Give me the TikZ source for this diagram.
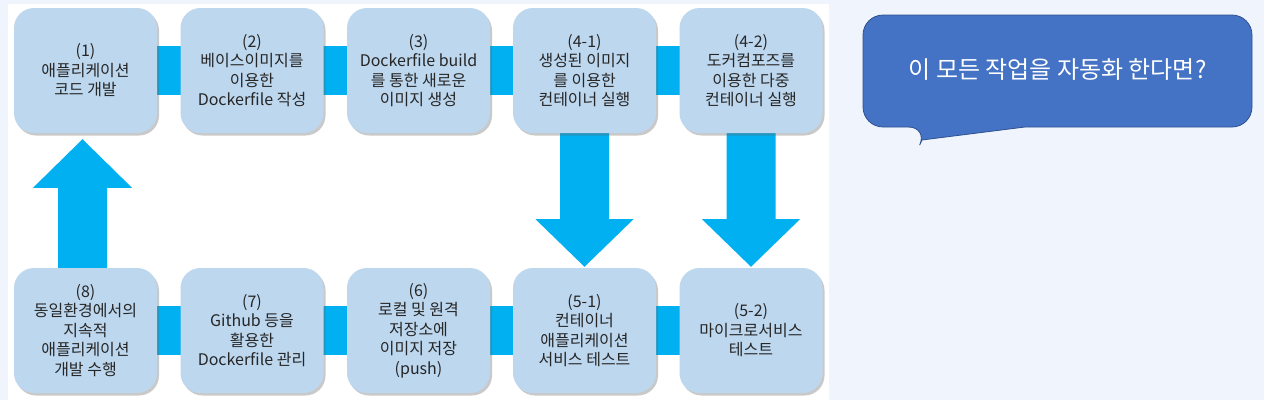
\documentclass[tikz,border=0pt]{standalone}
\usepackage{fontspec}
\setmainfont{Noto Sans CJK KR}
\newfontfamily\krfont{Noto Sans CJK KR}
\usetikzlibrary{calc,shadows,backgrounds}
\definecolor{pagebg}{RGB}{240,245,253}
\definecolor{boxfill}{RGB}{189,215,238}
\definecolor{bandcol}{RGB}{0,176,240}
\definecolor{bubblefill}{RGB}{68,114,196}
\definecolor{bubbleline}{RGB}{47,82,143}
\definecolor{txt}{RGB}{38,38,38}
\tikzset{
  stepbox/.style={rounded corners=20pt, fill=boxfill, minimum width=143pt, minimum height=125pt,
    inner sep=0pt, align=center, text=txt, font=\krfont\fontsize{16}{19.5}\selectfont,
    drop shadow={shadow xshift=2pt, shadow yshift=-2.5pt, opacity=0.35, fill=black!60}},
  band/.style={fill=bandcol},
}
\begin{document}
\begin{tikzpicture}[x=1pt,y=-1pt]
\useasboundingbox (0,0) rectangle (1264,400);
% top row
\node[stepbox] (b1) at (85.5,70.5) {(1)\\애플리케이션\\코드 개발};
\node[stepbox] (b2) at (252,70.5) {(2)\\베이스이미지를\\이용한\\Dockerfile 작성};
\node[stepbox] (b3) at (418.5,70.5) {(3)\\Dockerfile build\\를 통한 새로운\\이미지 생성};
\node[stepbox] (b41) at (584.5,70.5) {(4-1)\\생성된 이미지\\를 이용한\\ 컨테이너 실행};
\node[stepbox] (b42) at (751,70.5) {(4-2)\\도커컴포즈를\\이용한 다중\\ 컨테이너 실행};
% bottom row
\node[stepbox] (b8) at (85.5,330.5) {(8)\\동일환경에서의\\지속적\\애플리케이션\\개발 수행};
\node[stepbox] (b7) at (252,330.5) {(7)\\Github 등을\\활용한\\Dockerfile 관리};
\node[stepbox] (b6) at (418.5,330.5) {(6)\\로컬 및 원격\\저장소에\\이미지 저장\\(push)};
\node[stepbox] (b51) at (584.5,330.5) {(5-1)\\컨테이너\\애플리케이션\\서비스 테스트};
\node[stepbox] (b52) at (751,330.5) {(5-2)\\마이크로서비스\\테스트};
\begin{scope}[on background layer]
\fill[pagebg] (0,0) rectangle (1264,400);
\fill[white] (8,4) rectangle (829,400);
% horizontal bands
\foreach \a/\b in {b1/b2,b2/b3,b3/b41,b41/b42,b8/b7,b7/b6,b6/b51,b51/b52}{
  \fill[band] ($(\a.east)+(-2,-24.5)$) rectangle ($(\b.west)+(2,24.5)$);
}
% down arrows
\foreach \a/\b in {b41/b51,b42/b52}{
  \fill[band] ($(\a.south)+(-24.5,-2)$) -- ($(\a.south)+(24.5,-2)$) -- ($(\a.south)+(24.5,86)$)
    -- ($(\a.south)+(49,86)$) -- ($(\b.north)+(0,-1)$) -- ($(\a.south)+(-49,86)$)
    -- ($(\a.south)+(-24.5,86)$) -- cycle;
}
% up arrow
\fill[band] ($(b8.north)+(-27.5,2)$) -- ($(b8.north)+(21.5,2)$) -- ($(b8.north)+(21.5,-80)$)
  -- ($(b8.north)+(46.5,-80)$) -- ($(b1.south)+(-3,6)$) -- ($(b8.north)+(-52.5,-80)$)
  -- ($(b8.north)+(-27.5,-80)$) -- cycle;
\end{scope}
% speech bubble
\fill[bubblefill, draw=bubbleline, line width=0.8pt]
  (1025,127) [rounded corners=20pt] -- (1252,127) -- (1252,15) -- (863,15) -- (863,127)
  -- (928,127) [sharp corners] -- (922,140) -- cycle;
\node[text=white, font=\krfont\fontsize{24}{28}\selectfont, inner sep=0pt] (q) at (1057.5,70) {이 모든 작업을 자동화 한다면?};
\end{tikzpicture}
\end{document}
